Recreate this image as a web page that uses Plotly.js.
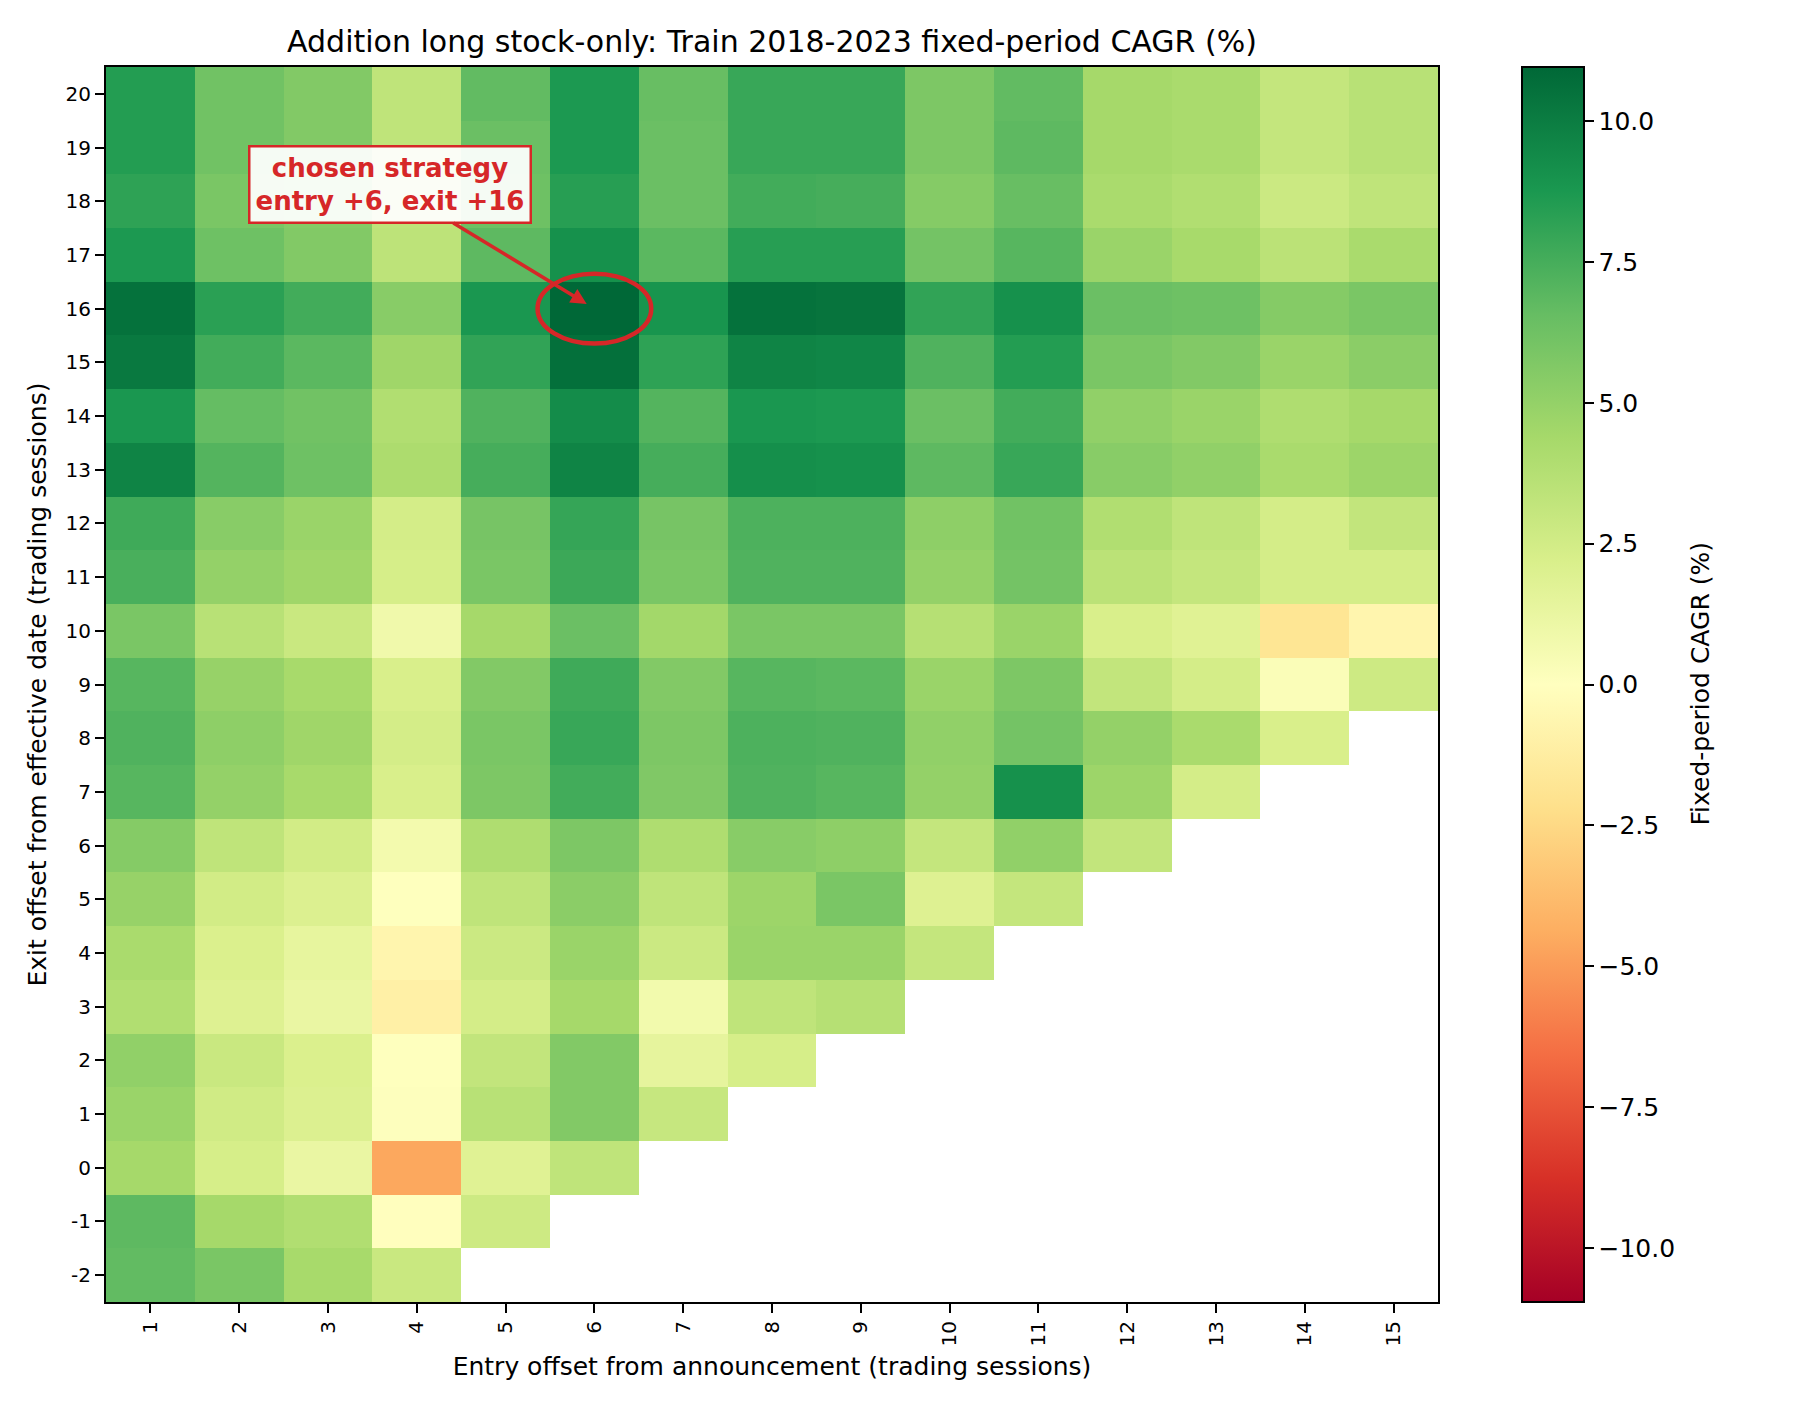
<!DOCTYPE html>
<html>
<head>
<meta charset="utf-8">
<script src="https://cdn.plot.ly/plotly-3.0.1.min.js"></script>
<style>
  html, body { margin: 0; padding: 0; background: #ffffff; }
  #chart { width: 1800px; height: 1407px; }
</style>
</head>
<body>
<div id="chart"></div>
<script>
// Entry offsets (columns) and exit offsets (rows)
const entryOffsets = [1, 2, 3, 4, 5, 6, 7, 8, 9, 10, 11, 12, 13, 14, 15];
const exitOffsets = [-2, -1, 0, 1, 2, 3, 4, 5, 6, 7, 8, 9, 10, 11, 12, 13, 14, 15, 16, 17, 18, 19, 20];
const entryTickLabels = ['1', '2', '3', '4', '5', '6', '7', '8', '9', '10', '11', '12', '13', '14', '15'];
const exitTickLabels = ['-2', '-1', '0', '1', '2', '3', '4', '5', '6', '7', '8', '9', '10', '11', '12', '13', '14', '15', '16', '17', '18', '19', '20'];

// Fixed-period CAGR (%) per entry offset, listed for exit offsets -2 .. 20
// (null where the exit would fall before the entry)
const cagrEntry1  = [6.7, 6.8, 4.4, 4.8, 5.1, 3.9, 4.2, 4.9, 5.5, 7.0, 7.2, 7.0, 5.9, 7.4, 7.7, 9.7, 8.8, 10.2, 10.5, 8.7, 8.2, 8.5, 8.5];
const cagrEntry2  = [5.9, 4.4, 2.3, 2.6, 2.9, 1.9, 2.1, 2.5, 3.3, 5.0, 5.2, 4.9, 3.6, 5.0, 5.4, 7.1, 6.6, 7.6, 8.3, 6.3, 5.9, 6.2, 6.2];
const cagrEntry3  = [4.3, 3.9, 1.2, 2.0, 2.1, 1.2, 1.4, 2.0, 2.5, 4.3, 4.6, 4.3, 2.9, 4.6, 4.8, 6.3, 6.2, 6.9, 7.6, 5.6, 5.5, 5.6, 5.6];
const cagrEntry4  = [2.9, -0.05, -4.6, 0.1, 0.05, -1.05, -0.7, 0.05, 0.7, 2.2, 2.4, 2.2, 0.85, 2.3, 2.4, 4.1, 3.9, 4.6, 5.4, 3.4, 3.3, 3.3, 3.3];
const cagrEntry5  = [null, 2.7, 1.8, 3.6, 3.2, 2.4, 2.8, 3.3, 4.0, 5.8, 5.9, 5.6, 4.4, 5.9, 6.0, 7.5, 7.2, 8.1, 8.8, 6.8, 6.3, 6.4, 6.7];
const cagrEntry6  = [null, null, 3.3, 5.6, 5.6, 4.4, 4.8, 5.3, 5.8, 7.6, 7.9, 7.7, 6.4, 7.8, 8.0, 9.7, 9.3, 10.6, 10.96, 9.1, 8.4, 8.7, 8.7];
const cagrEntry7  = [null, null, null, 3.0, 1.45, 0.75, 2.8, 3.3, 4.0, 5.7, 5.8, 5.6, 4.5, 5.9, 6.0, 7.5, 7.1, 8.2, 8.9, 6.9, 6.4, 6.4, 6.5];
const cagrEntry8  = [null, null, null, null, 2.3, 3.3, 4.8, 4.7, 5.4, 7.2, 7.3, 7.0, 5.9, 7.2, 7.3, 9.2, 8.8, 9.7, 10.5, 8.4, 7.6, 7.9, 7.9];
const cagrEntry9  = [null, null, null, null, null, 3.7, 4.8, 5.9, 5.2, 7.0, 7.2, 6.9, 5.9, 7.2, 7.3, 9.1, 8.7, 9.6, 10.4, 8.4, 7.5, 7.9, 7.9];
const cagrEntry10 = [null, null, null, null, null, null, 3.1, 1.9, 3.1, 5.0, 5.1, 4.8, 3.7, 5.0, 5.2, 6.8, 6.4, 7.2, 8.1, 6.1, 5.5, 5.8, 5.8];
const cagrEntry11 = [null, null, null, null, null, null, null, 3.1, 5.1, 9.1, 6.1, 5.8, 4.8, 6.1, 6.2, 7.9, 7.6, 8.5, 9.1, 7.0, 6.5, 6.8, 6.7];
const cagrEntry12 = [null, null, null, null, null, null, null, null, 3.2, 4.7, 5.0, 3.2, 2.2, 3.5, 3.9, 5.4, 5.1, 5.9, 6.4, 4.8, 4.2, 4.4, 4.4];
const cagrEntry13 = [null, null, null, null, null, null, null, null, null, 2.4, 4.2, 2.4, 1.8, 3.1, 3.3, 5.1, 4.8, 5.6, 6.3, 4.3, 3.9, 4.2, 4.2];
const cagrEntry14 = [null, null, null, null, null, null, null, null, null, null, 2.2, 0.3, -1.8, 2.4, 2.4, 4.2, 4.0, 4.8, 5.5, 3.5, 2.8, 3.1, 3.1];
const cagrEntry15 = [null, null, null, null, null, null, null, null, null, null, null, 2.7, -0.7, 2.4, 3.2, 4.7, 4.4, 5.3, 5.9, 4.2, 3.3, 3.6, 3.6];

// Chosen strategy
const chosenEntry = 6;
const chosenExit = 16;

const columns = [cagrEntry1, cagrEntry2, cagrEntry3, cagrEntry4, cagrEntry5, cagrEntry6, cagrEntry7,
  cagrEntry8, cagrEntry9, cagrEntry10, cagrEntry11, cagrEntry12, cagrEntry13, cagrEntry14, cagrEntry15];

// Heatmap rows follow exit offsets, columns follow entry offsets
const z = exitOffsets.map((_, r) => columns.map(col => col[r]));

// Symmetric colour limits around zero
let vmax = 0;
columns.forEach(col => col.forEach(v => { if (v !== null) vmax = Math.max(vmax, Math.abs(v)); }));

// Red-yellow-green diverging colour map
const rdYlGn = [
  [0.0, '#a50026'], [0.1, '#d73027'], [0.2, '#f46d43'], [0.3, '#fdae61'],
  [0.4, '#fee08b'], [0.5, '#ffffbf'], [0.6, '#d9ef8b'], [0.7, '#a6d96a'],
  [0.8, '#66bd63'], [0.9, '#1a9850'], [1.0, '#006837']
];

const FONT = 'DejaVu Sans, Verdana, sans-serif';
const RED = '#d62728';

const trace = {
  type: 'heatmap',
  x: entryOffsets,
  y: exitOffsets,
  z: z,
  zmin: -vmax,
  zmax: vmax,
  colorscale: rdYlGn,
  hoverongaps: false,
  colorbar: {
    x: 1.0631,
    xref: 'paper',
    xanchor: 'left',
    xpad: 0,
    y: 0.5,
    yanchor: 'middle',
    ypad: 0,
    len: 1,
    lenmode: 'fraction',
    thickness: 62,
    thicknessmode: 'pixels',
    outlinewidth: 2,
    outlinecolor: '#000000',
    ticks: 'outside',
    ticklen: 9,
    tickwidth: 2,
    tickcolor: '#000000',
    tick0: 0,
    dtick: 2.5,
    tickformat: '.1f',
    tickfont: { family: FONT, size: 25, color: '#000000' }
  }
};

const layout = {
  width: 1800,
  height: 1407,
  margin: { l: 106, r: 362, t: 67, b: 105, pad: 0 },
  paper_bgcolor: '#ffffff',
  plot_bgcolor: '#ffffff',
  font: { family: FONT, color: '#000000' },
  title: {
    text: 'Addition long stock-only: Train 2018-2023 fixed-period CAGR (%)',
    font: { family: FONT, size: 30, color: '#000000' },
    x: 0.5,
    xref: 'paper',
    xanchor: 'center',
    y: 1 - 41 / 1407,
    yref: 'container',
    yanchor: 'middle'
  },
  xaxis: {
    range: [0.5, 15.5],
    tickmode: 'array',
    tickvals: entryOffsets,
    ticktext: entryTickLabels,
    tickangle: -90,
    ticks: 'outside',
    ticklen: 9,
    tickwidth: 2,
    tickcolor: '#000000',
    tickfont: { family: FONT, size: 20, color: '#000000' },
    showline: true,
    linecolor: '#000000',
    linewidth: 2,
    mirror: true,
    showgrid: false,
    zeroline: false,
    title: {
      text: 'Entry offset from announcement (trading sessions)',
      font: { family: FONT, size: 25, color: '#000000' },
      standoff: 12
    }
  },
  yaxis: {
    range: [-2.5, 20.5],
    tickmode: 'array',
    tickvals: exitOffsets,
    ticktext: exitTickLabels,
    ticks: 'outside',
    ticklen: 9,
    tickwidth: 2,
    tickcolor: '#000000',
    tickfont: { family: FONT, size: 20, color: '#000000' },
    showline: true,
    linecolor: '#000000',
    linewidth: 2,
    mirror: true,
    showgrid: false,
    zeroline: false,
    title: {
      text: 'Exit offset from effective date (trading sessions)',
      font: { family: FONT, size: 25, color: '#000000' },
      standoff: 12
    }
  },
  shapes: [{
    type: 'circle',
    xref: 'x',
    yref: 'y',
    x0: chosenEntry - 0.64,
    x1: chosenEntry + 0.64,
    y0: chosenExit - 0.65,
    y1: chosenExit + 0.65,
    line: { color: RED, width: 4.5 },
    fillcolor: 'rgba(0,0,0,0)'
  }],
  annotations: [{
    x: chosenEntry,
    y: chosenExit,
    xref: 'x',
    yref: 'y',
    text: '<b>chosen strategy<br>entry +' + chosenEntry + ', exit +' + chosenExit + '</b>',
    font: { family: FONT, size: 26, color: RED },
    align: 'center',
    showarrow: true,
    ax: -204,
    ay: -124,
    axref: 'pixel',
    ayref: 'pixel',
    arrowcolor: RED,
    arrowwidth: 3.5,
    arrowhead: 2,
    arrowsize: 0.9,
    standoff: 9,
    bgcolor: 'rgba(255,255,255,0.93)',
    bordercolor: RED,
    borderwidth: 2.5,
    borderpad: 5
  }, {
    // Colour bar label, set beside the tick labels
    text: 'Fixed-period CAGR (%)',
    xref: 'paper',
    yref: 'paper',
    x: (1700 - 106) / (1800 - 106 - 362),
    y: 0.5,
    xanchor: 'center',
    yanchor: 'middle',
    textangle: -90,
    showarrow: false,
    font: { family: FONT, size: 25, color: '#000000' }
  }]
};

Plotly.newPlot('chart', [trace], layout, { displayModeBar: false, staticPlot: true });
</script>
</body>
</html>
